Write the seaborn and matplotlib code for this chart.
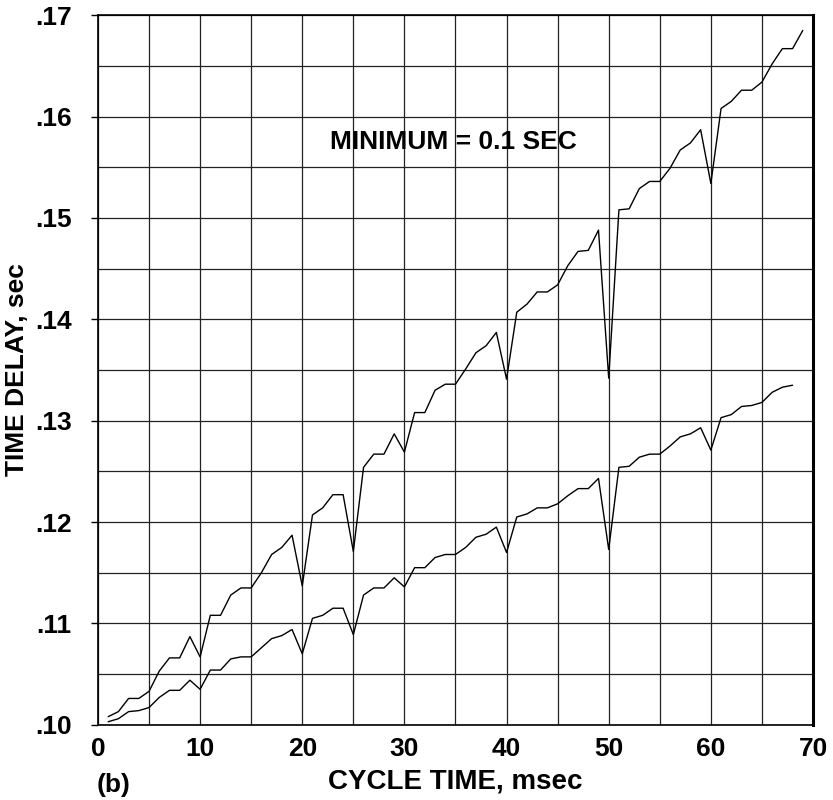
import numpy as np
import pandas as pd
import matplotlib
matplotlib.use("Agg")
import matplotlib.pyplot as plt
from matplotlib.ticker import MultipleLocator, FuncFormatter
import seaborn as sns

sns.set_theme(style="white")
plt.rcParams['font.family'] = ['Liberation Sans', 'DejaVu Sans']
plt.rcParams['text.color'] = 'black'
plt.rcParams['axes.labelcolor'] = 'black'
plt.rcParams['xtick.color'] = 'black'
plt.rcParams['ytick.color'] = 'black'

# cycle time, msec
cycle_upper = np.arange(1, 70)
cycle_lower = np.arange(1, 69)

# upper curve (time delay, sec)
delay_upper = [
    .1008, .1013, .1026, .1026, .1033, .1053, .1066, .1066, .1087, .1067,
    .1108, .1108, .1128, .1135, .1135, .1150, .1168, .1175, .1187, .1137,
    .1207, .1214, .1227, .1227, .1171, .1254, .1267, .1267, .1287, .1269,
    .1308, .1308, .1330, .1336, .1336, .1351, .1367, .1374, .1387, .1341,
    .1407, .1415, .1427, .1427, .1434, .1453, .1467, .1468, .1488, .1342,
    .1508, .1509, .1529, .1536, .1536, .1549, .1567, .1574, .1587, .1534,
    .1608, .1615, .1626, .1626, .1634, .1652, .1667, .1667, .1685,
]

# lower curve (time delay, sec)
delay_lower = [
    .1003, .1006, .1013, .1014, .1017, .1027, .1034, .1034, .1044, .1035,
    .1054, .1054, .1065, .1067, .1067, .1076, .1085, .1088, .1094, .1070,
    .1105, .1108, .1115, .1115, .1089, .1128, .1135, .1135, .1145, .1136,
    .1155, .1155, .1165, .1168, .1168, .1175, .1185, .1188, .1195, .1170,
    .1205, .1208, .1214, .1214, .1218, .1226, .1233, .1233, .1243, .1173,
    .1254, .1255, .1264, .1267, .1267, .1275, .1284, .1287, .1293, .1271,
    .1303, .1306, .1314, .1315, .1318, .1328, .1333, .1335,
]

fig = plt.figure(figsize=(8.33, 8.0), dpi=100)
ax = fig.add_axes([0.1176, 0.094, 0.8584, 0.887])

sns.lineplot(x=cycle_upper, y=delay_upper, ax=ax, color="black", linewidth=1.0)
sns.lineplot(x=cycle_lower, y=delay_lower, ax=ax, color="black", linewidth=1.0)

ax.set_xlim(0, 70)
ax.set_ylim(0.10, 0.17)
ax.xaxis.set_major_locator(MultipleLocator(10))
ax.xaxis.set_minor_locator(MultipleLocator(5))
ax.yaxis.set_major_locator(MultipleLocator(0.01))
ax.yaxis.set_minor_locator(MultipleLocator(0.005))
ax.yaxis.set_major_formatter(FuncFormatter(lambda v, p: f"{v:.2f}".lstrip("0")))

ax.grid(True, which="both", color="#222222", linewidth=0.9)
ax.set_axisbelow(True)

for side in ["left", "bottom", "top"]:
    ax.spines[side].set_color("black")
    ax.spines[side].set_linewidth(1.2)
ax.spines["right"].set_color("black")
ax.spines["right"].set_linewidth(2.2)

ax.tick_params(axis="x", which="major", length=0, pad=9, labelsize=19)
ax.tick_params(axis="y", which="major", length=5, width=1, direction="out",
               pad=14, labelsize=19, left=True)
for lab in ax.get_xticklabels() + ax.get_yticklabels():
    lab.set_fontweight("bold")

ax.set_xlabel("CYCLE TIME, msec", fontsize=20, fontweight="bold", labelpad=5)
ax.set_ylabel("TIME DELAY, sec", fontsize=19, fontweight="bold", labelpad=4)

ax.text(22.7, 0.1575, "MINIMUM = 0.1 SEC", fontsize=19, fontweight="bold",
        va="center", ha="left")
fig.text(0.116, 0.004, "(b)", fontsize=19, fontweight="bold", ha="left", va="bottom")

fig.savefig("out.png", dpi=100, facecolor="white")
